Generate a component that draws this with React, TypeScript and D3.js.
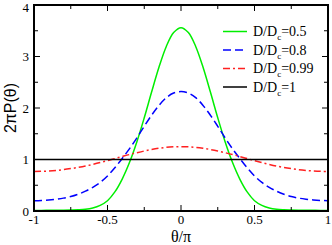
import * as React from "react";
import { scaleLinear, line, curveCatmullRom, range } from "d3";

// theta / pi, from 0 to 1 (curves are symmetric, mirrored for negative side)
const thetaHalf = range(0, 21).map((i) => i / 20);

const green05 = [3.56, 3.465, 3.195, 2.79, 2.31, 1.81, 1.345, 0.945, 0.62, 0.37, 0.2,
  0.11, 0.06, 0.035, 0.025, 0.02, 0.016, 0.014, 0.013, 0.012, 0.012];
const blue08 = [2.32, 2.29, 2.2, 2.05, 1.86, 1.645, 1.42, 1.21, 1.02, 0.84, 0.68,
  0.555, 0.46, 0.385, 0.325, 0.28, 0.25, 0.23, 0.215, 0.205, 0.2];
const red099 = [1.25, 1.246, 1.236, 1.218, 1.194, 1.165, 1.132, 1.097, 1.058, 1.018, 0.978,
  0.94, 0.905, 0.873, 0.846, 0.823, 0.803, 0.788, 0.777, 0.77, 0.767];
const black1 = thetaHalf.map(() => 1);

const legendLabels = ["0.5", "0.8", "0.99", "1"];
const xTicks = [-1, -0.5, 0, 0.5, 1];
const xLabels = ["-1", "-0.5", "0", "0.5", "1"];
const yTicks = [0, 1, 2, 3, 4];

const series = [
  { vals: green05, color: "#00ee00", dash: "none" },
  { vals: blue08, color: "#0000ff", dash: "8,4" },
  { vals: red099, color: "#ff2020", dash: "7,3,2,3" },
  { vals: black1, color: "#000000", dash: "none" },
];

const full = (vals: number[]) => {
  const pts: [number, number][] = [];
  for (let i = thetaHalf.length - 1; i > 0; i--) pts.push([-thetaHalf[i], vals[i]]);
  for (let i = 0; i < thetaHalf.length; i++) pts.push([thetaHalf[i], vals[i]]);
  return pts;
};

export default function App() {
  const L = 34, R = 328, T = 5, B = 211;
  const x = scaleLinear().domain([-1, 1]).range([L, R]);
  const y = scaleLinear().domain([0, 4]).range([B, T]);
  const gen = line<[number, number]>()
    .x((d) => x(d[0]))
    .y((d) => y(d[1]))
    .curve(curveCatmullRom);

  const xMinor = range(-1, 1.001, 0.25);
  const yMinor = range(0, 4.001, 0.5);

  return (
    <svg width={332} height={245} style={{ position: "absolute", left: 0, top: 0 }}>
      <rect width={332} height={245} fill="white" />
      <defs>
        <clipPath id="plot">
          <rect x={L} y={T} width={R - L} height={B - T} />
        </clipPath>
      </defs>
      <g clipPath="url(#plot)">
        {series.map((s, i) => (
          <path key={i} d={gen(full(s.vals)) || ""} fill="none" stroke={s.color}
            strokeWidth={1.5} strokeDasharray={s.dash} />
        ))}
      </g>
      {/* ticks */}
      <g stroke="black" strokeWidth={1}>
        {xMinor.map((t, i) => {
          const major = Math.abs(t * 2 - Math.round(t * 2)) < 1e-6;
          const len = major ? 6 : 4;
          return (
            <g key={"xt" + i}>
              <line x1={x(t)} x2={x(t)} y1={B} y2={B - len} />
              <line x1={x(t)} x2={x(t)} y1={T} y2={T + len} />
            </g>
          );
        })}
        {yMinor.map((t, i) => {
          const major = Math.abs(t - Math.round(t)) < 1e-6;
          const len = major ? 6 : 4;
          return (
            <g key={"yt" + i}>
              <line x1={L} x2={L + len} y1={y(t)} y2={y(t)} />
              <line x1={R} x2={R - len} y1={y(t)} y2={y(t)} />
            </g>
          );
        })}
      </g>
      <rect x={L} y={T} width={R - L} height={B - T} fill="none" stroke="black" strokeWidth={2} />
      {/* tick labels */}
      <g fontFamily="Liberation Serif, serif" fontSize={13} fill="black">
        {xTicks.map((t, i) => (
          <text key={"xl" + i} x={x(t)} y={B + 13} textAnchor="middle">{xLabels[i]}</text>
        ))}
        {yTicks.map((t, i) => (
          <text key={"yl" + i} x={L - 5} y={y(t) + (t === 4 ? 7 : 4.5)} textAnchor="end">{t}</text>
        ))}
      </g>
      <text x={x(0)} y={242} textAnchor="middle" fontFamily="Liberation Serif, serif" fontSize={16}>θ/π</text>
      <text transform={`translate(16,${(T + B) / 2}) rotate(-90)`} textAnchor="middle"
        fontFamily="Liberation Sans, Arial, sans-serif" fontSize={16}>2πP(θ)</text>
      {/* legend */}
      <g fontFamily="Liberation Serif, serif" fontSize={14}>
        {series.map((s, i) => {
          const ly = 31.5 + i * 18.5;
          return (
            <g key={"lg" + i}>
              <line x1={223} x2={247} y1={ly} y2={ly} stroke={s.color} strokeWidth={1.5}
                strokeDasharray={s.dash} />
              <text x={253} y={ly + 4.5}>
                D/D<tspan fontSize={9} dy={4}>c</tspan><tspan dy={-4}>={legendLabels[i]}</tspan>
              </text>
            </g>
          );
        })}
      </g>
    </svg>
  );
}
